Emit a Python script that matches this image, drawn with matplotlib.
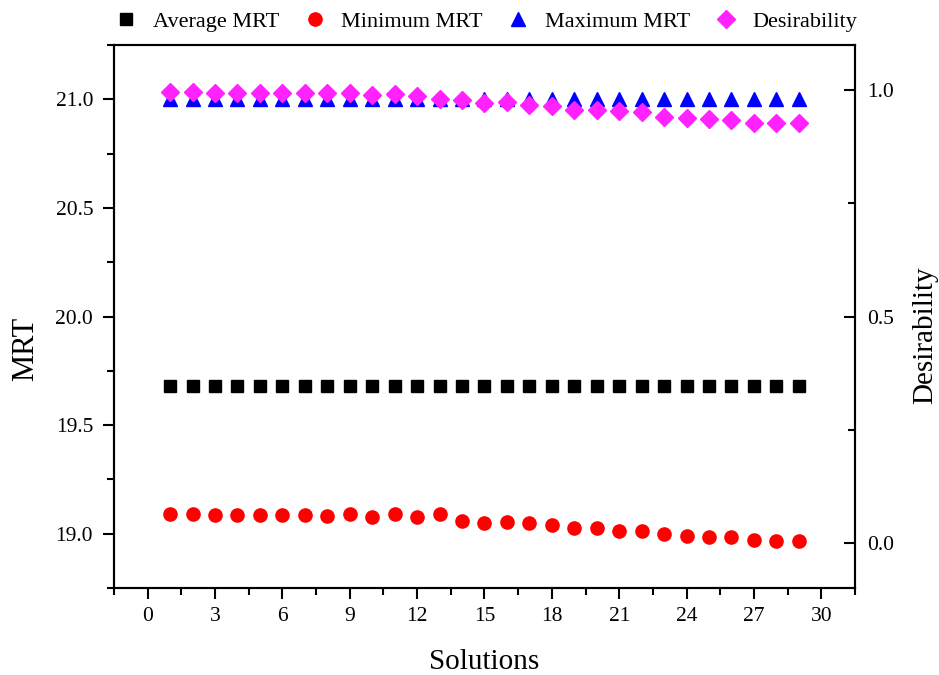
import numpy as np
import matplotlib.pyplot as plt
from matplotlib.ticker import MultipleLocator

plt.rcParams['font.family'] = ['Liberation Serif', 'DejaVu Serif']

# Data
solutions = list(range(1, 30))
avg_mrt = [19.68] * 29
min_mrt = [19.091, 19.092, 19.088, 19.085, 19.085, 19.085, 19.088, 19.082, 19.091, 19.078,
           19.091, 19.075, 19.091, 19.060, 19.050, 19.054, 19.048, 19.040, 19.026, 19.025,
           19.014, 19.014, 18.998, 18.988, 18.986, 18.983, 18.971, 18.968, 18.968]
max_mrt = [21.0] * 29
desirability = [0.997, 0.997, 0.995, 0.994, 0.994, 0.994, 0.994, 0.993, 0.994, 0.990,
                0.991, 0.988, 0.980, 0.978, 0.971, 0.973, 0.967, 0.965, 0.957, 0.957,
                0.954, 0.952, 0.942, 0.939, 0.937, 0.935, 0.928, 0.928, 0.928]

fig = plt.figure(figsize=(9.39, 6.75), dpi=100)
ax = fig.add_axes([0.1214, 0.1289, 0.7891, 0.8044])
ax2 = ax.twinx()

h1, = ax.plot(solutions, avg_mrt, 's', color='black', markersize=8.5, label='Average MRT')
h2, = ax.plot(solutions, min_mrt, 'o', color='red', markersize=9.5, label='Minimum MRT')
h3, = ax.plot(solutions, max_mrt, '^', color='blue', markersize=10, label='Maximum MRT')
h4, = ax2.plot(solutions, desirability, 'D', color='#ff22ff', markersize=9.5, label='Desirability')

ax.set_xlim(-1.5, 31.5)
ax.set_ylim(18.75, 21.25)
ax2.set_ylim(-0.1, 1.1)

ax.xaxis.set_major_locator(MultipleLocator(3))
ax.xaxis.set_minor_locator(MultipleLocator(1.5))
ax.yaxis.set_major_locator(MultipleLocator(0.5))
ax.yaxis.set_minor_locator(MultipleLocator(0.25))
ax2.yaxis.set_major_locator(MultipleLocator(0.5))
ax2.yaxis.set_minor_locator(MultipleLocator(0.25))
ax.yaxis.set_major_formatter(plt.FormatStrFormatter('%.1f'))
ax2.yaxis.set_major_formatter(plt.FormatStrFormatter('%.1f'))

ax.tick_params(axis='both', which='major', direction='out', length=8, width=1.5, labelsize=15.5)
ax.tick_params(axis='both', which='minor', direction='out', length=5, width=1.5)
ax.tick_params(axis='y', pad=7)
ax.tick_params(axis='x', pad=6)
ax2.tick_params(axis='y', which='major', direction='in', length=8, width=1.5, labelsize=15.5, pad=9)
ax2.tick_params(axis='y', which='minor', direction='in', length=5, width=1.5)

for a in (ax, ax2):
    for s in a.spines.values():
        s.set_linewidth(1.5)

ax.set_xlabel('Solutions', fontsize=21, labelpad=16)
ax.set_ylabel('MRT', fontsize=22)
ax2.set_ylabel('Desirability', fontsize=21, rotation=90)
ax.yaxis.set_label_coords(-0.1, 0.44)
ax2.yaxis.set_label_coords(1.077, 0.466)

fig.legend(handles=[h1, h2, h3, h4], loc='center', bbox_to_anchor=(0.5165, 0.968),
           ncol=4, frameon=False, fontsize=16, handletextpad=0.6, columnspacing=1.0,
           handlelength=1.2)

plt.savefig('out.png', dpi=100)
